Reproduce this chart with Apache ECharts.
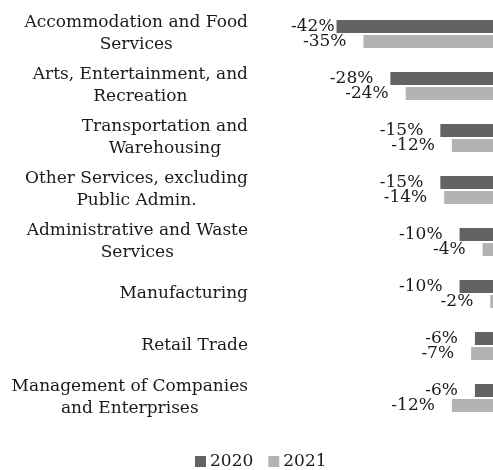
<!DOCTYPE html>
<html>
<head>
<meta charset="utf-8">
<script src="https://cdn.jsdelivr.net/npm/echarts@6/dist/echarts.min.js"></script>
<style>
  html, body { margin: 0; padding: 0; background: #fff; }
</style>
</head>
<body>
<div id="main" style="width: 493px; height: 470px;"></div>
<script>
// categories, top to bottom (line breaks as in the original)
var industries = [
  'Accommodation and Food\nServices',
  'Arts, Entertainment, and\nRecreation',
  'Transportation and\nWarehousing',
  'Other Services, excluding\nPublic Admin.',
  'Administrative and Waste\nServices',
  'Manufacturing',
  'Retail Trade',
  'Management of Companies\nand Enterprises'
];
var years = ['2020', '2021'];
var change2020 = [-42, -28, -15, -15, -10, -10, -6, -6];
var change2021 = [-35, -24, -12, -14, -4, -2, -7, -12];

var serif = '"DejaVu Serif", serif';

function valueLabel(distance) {
  return {
    show: true,
    position: 'left',
    distance: distance,
    color: '#1a1a1a',
    fontFamily: serif,
    fontSize: 17,
    formatter: function (p) { return p.value + '%'; }
  };
}

// the longest bar's label sits right against the bar
var data2020 = change2020.map(function (v, i) {
  if (i === 0) return { value: v, label: { distance: 2 } };
  return v;
});

var chart = echarts.init(document.getElementById('main'));
chart.setOption({
  animation: false,
  grid: { left: 325, right: -5, top: 8, bottom: 46, containLabel: false, outerBoundsMode: 'none' },
  legend: {
    data: years,
    left: 195,
    top: 453,
    padding: 0,
    itemWidth: 11,
    itemHeight: 11,
    itemGap: 15,
    icon: 'rect',
    textStyle: { fontFamily: serif, fontSize: 17, color: '#1a1a1a', padding: [0, 0, 0, -1] }
  },
  xAxis: {
    type: 'value',
    min: -45,
    max: 0,
    show: false
  },
  yAxis: {
    type: 'category',
    inverse: true,
    data: industries,
    axisLine: { show: false },
    axisTick: { show: false },
    axisLabel: {
      margin: 77,
      align: 'right',
      lineHeight: 22,
      color: '#1a1a1a',
      fontFamily: serif,
      fontSize: 17,
      formatter: function (v) {
        return v.split('\n').map(function (s) { return '{c|' + s + '}'; }).join('\n');
      },
      rich: {
        c: { align: 'center', fontFamily: serif, fontSize: 17, lineHeight: 22, color: '#1a1a1a' }
      }
    }
  },
  series: [
    {
      name: '2020',
      type: 'bar',
      data: data2020,
      barWidth: 13,
      barGap: '15%',
      itemStyle: { color: '#636363' },
      label: valueLabel(17)
    },
    {
      name: '2021',
      type: 'bar',
      data: change2021,
      barWidth: 13,
      itemStyle: { color: '#b3b3b3' },
      label: valueLabel(17)
    }
  ]
});
</script>
</body>
</html>
